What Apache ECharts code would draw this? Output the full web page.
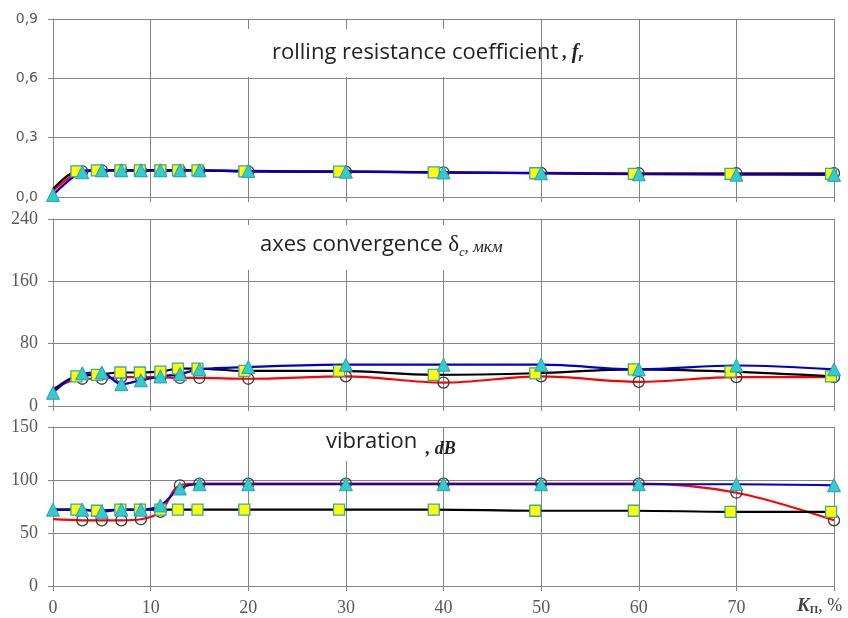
<!DOCTYPE html>
<html>
<head>
<meta charset="utf-8">
<script src="https://cdn.jsdelivr.net/npm/echarts@6/dist/echarts.min.js"></script>
<style>
  html, body { margin: 0; padding: 0; background: #fff; }
  #chart { width: 848px; height: 618px; }
</style>
</head>
<body>
<div id="chart"></div>
<script>
// x positions (K_P, %) of each marker family
const xCircle = [0, 3, 5, 7, 9, 11, 13, 15, 20, 30, 40, 50, 60, 70, 80];
const xSquare = [0, 2.4, 4.5, 6.9, 8.9, 11, 12.8, 14.8, 19.6, 29.3, 39, 49.4, 59.5, 69.4, 79.7];
const xTriangle = [0, 3, 5, 7, 9, 11, 13, 15, 20, 30, 40, 50, 60, 70, 80];

// rolling resistance coefficient f_r
const frCircle = [0.03, 0.13, 0.135, 0.135, 0.135, 0.135, 0.135, 0.135, 0.13, 0.128, 0.125, 0.122, 0.12, 0.12, 0.12];
const frSquare = [0.04, 0.13, 0.135, 0.135, 0.135, 0.135, 0.135, 0.135, 0.13, 0.128, 0.125, 0.12, 0.117, 0.117, 0.117];
const frTriangle = [0.01, 0.125, 0.135, 0.135, 0.135, 0.135, 0.135, 0.135, 0.132, 0.128, 0.124, 0.12, 0.115, 0.113, 0.112];

// axes convergence delta_c, mkm
const dcCircle = [22, 35, 35, 37, 37, 37, 36, 36, 35, 38, 30, 38, 31, 37, 37];
const dcSquare = [20, 38, 40, 43, 43, 44, 48, 48, 45, 45, 40, 42, 47, 44, 38];
const dcTriangle = [17, 42, 43, 28, 33, 38, 41, 47, 50, 53, 53, 53, 47, 52, 47];

// vibration, dB
const vbCircle = [63, 62, 62, 62, 63, 70, 95, 96.5, 96.5, 96.5, 96.5, 96.5, 96.5, 88, 62];
const vbSquare = [72, 72, 71, 72, 72, 72, 72, 72, 72, 72, 72, 71, 71, 70, 70];
const vbTriangle = [72, 72, 70, 72, 72, 76, 92, 96, 96, 96, 96, 96, 96, 96, 95];

const xTicks = [0, 10, 20, 30, 40, 50, 60, 70];

const gridColor = '#858585';
const labelColor = '#595959';

const styles = {
  circle: {
    line: '#ff0000', symbol: 'circle', size: 11,
    item: { color: 'rgba(255,255,255,0)', borderColor: '#3a3a3a', borderWidth: 1.3 },
    hideFirst: true
  },
  square: {
    line: '#000000', symbol: 'rect', size: 11,
    item: { color: '#ffff00', borderColor: '#3aa6a6', borderWidth: 1.3 },
    hideFirst: true
  },
  triangle: {
    line: '#0000cc', symbol: 'triangle', size: 13,
    item: { color: '#33cccc', borderColor: '#2a9fb0', borderWidth: 1 },
    hideFirst: false
  }
};

function makeSeries(xs, ys, gridIndex, kind) {
  const s = styles[kind];
  return {
    type: 'line',
    xAxisIndex: gridIndex,
    yAxisIndex: gridIndex,
    smooth: 0.35,
    symbol: s.symbol,
    symbolSize: s.size,
    itemStyle: s.item,
    lineStyle: { color: s.line, width: 2.2 },
    data: xs.map((x, i) => {
      const d = { value: [x, ys[i]] };
      if (i === 0 && s.hideFirst) d.symbol = 'none';
      return d;
    })
  };
}

function xAxis(i) {
  return {
    gridIndex: i,
    type: 'value',
    min: 0, max: 80, interval: 10,
    axisLine: { show: true, lineStyle: { color: gridColor } },
    axisTick: { show: true, length: 5, lineStyle: { color: gridColor } },
    splitLine: { show: true, lineStyle: { color: gridColor, width: 1 } },
    axisLabel: {
      show: i === 2,
      margin: 13,
      color: labelColor,
      fontFamily: 'Liberation Serif',
      fontSize: 18,
      formatter: (v) => (xTicks.indexOf(v) >= 0 ? String(v) : '')
    }
  };
}

function yAxis(i, max, interval, fmt, font, size) {
  return {
    gridIndex: i,
    type: 'value',
    min: 0, max: max, interval: interval,
    axisLine: { show: true, lineStyle: { color: gridColor } },
    axisTick: { show: true, length: 5, lineStyle: { color: gridColor } },
    splitLine: { show: true, lineStyle: { color: gridColor, width: 1 } },
    axisLabel: {
      margin: 15,
      color: labelColor,
      fontFamily: font,
      fontSize: size,
      formatter: fmt
    }
  };
}

const chart = echarts.init(document.getElementById('chart'), null, { renderer: 'canvas' });

const titleColor = '#222';

const option = {
  animation: false,
  backgroundColor: '#fff',
  grid: [
    { left: 53, right: 14, top: 19, height: 178 },
    { left: 53, right: 14, top: 219, height: 187 },
    { left: 53, right: 14, top: 427, height: 159 }
  ],
  xAxis: [xAxis(0), xAxis(1), xAxis(2)],
  yAxis: [
    yAxis(0, 0.9, 0.3, (v) => v.toFixed(1).replace('.', ','), 'DejaVu Sans', 14),
    yAxis(1, 240, 80, (v) => String(v), 'Liberation Serif', 18),
    yAxis(2, 150, 50, (v) => String(v), 'Liberation Serif', 18)
  ],
  graphic: [
    {
      type: 'text', left: 242, top: 29, z: 100,
      style: {
        text: '{a|rolling resistance }{e|coefficient}{b| , }{c|f}{d|r}',
        rich: {
          a: { fontFamily: 'Open Sans', fontSize: 22, fill: titleColor, backgroundColor: '#fff',
               padding: [10, 0, 11, 30], height: 27 },
          e: { fontFamily: 'Open Sans', fontSize: 22, fill: titleColor },
          b: { fontFamily: 'Liberation Serif', fontSize: 18, fontWeight: 'bold', fontStyle: 'italic', fill: titleColor },
          c: { fontFamily: 'Liberation Serif', fontSize: 20, fontWeight: 'bold', fontStyle: 'italic', fill: titleColor },
          d: { fontFamily: 'Liberation Serif', fontSize: 12, fontWeight: 'bold', fontStyle: 'italic', fill: titleColor,
               padding: [10, 0, 0, 0] }
        }
      }
    },
    {
      type: 'text', left: 242, top: 225, z: 100,
      style: {
        text: '{a|axes convergence }{d|δ}{s|c}{m|, мкм}',
        rich: {
          a: { fontFamily: 'Open Sans', fontSize: 22, fill: titleColor, backgroundColor: '#fff',
               padding: [6, 0, 12, 18], height: 27 },
          d: { fontFamily: 'Liberation Serif', fontSize: 23, fill: titleColor, backgroundColor: '#fff',
               padding: [6, 0, 12, 0], height: 27 },
          s: { fontFamily: 'Liberation Serif', fontSize: 12, fontStyle: 'italic', fill: titleColor,
               padding: [10, 0, 0, 0] },
          m: { fontFamily: 'Liberation Serif', fontSize: 17, fontStyle: 'italic', fill: titleColor }
        }
      }
    },
    {
      type: 'text', left: 320, top: 428, z: 100,
      style: {
        text: '{a|vibration}{b| , dB}',
        rich: {
          a: { fontFamily: 'Open Sans', fontSize: 22, fill: titleColor, backgroundColor: '#fff',
               padding: [0, 4, 6, 6], height: 27 },
          b: { fontFamily: 'Liberation Serif', fontSize: 18, fontWeight: 'bold', fontStyle: 'italic', fill: titleColor,
               padding: [10, 0, 0, 0] }
        }
      }
    },
    {
      type: 'text', left: 797, top: 597, z: 100,
      style: {
        text: '{k|K}{s|П}{n|, %}',
        rich: {
          k: { fontFamily: 'Liberation Serif', fontSize: 19, fontWeight: 'bold', fontStyle: 'italic', fill: '#444' },
          s: { fontFamily: 'Liberation Serif', fontSize: 11, fontWeight: 'bold', fill: '#444',
               padding: [8, 0, 0, 0] },
          n: { fontFamily: 'Liberation Serif', fontSize: 18, fill: '#444' }
        }
      }
    }
  ],
  series: [
    makeSeries(xCircle, frCircle, 0, 'circle'),
    makeSeries(xSquare, frSquare, 0, 'square'),
    makeSeries(xTriangle, frTriangle, 0, 'triangle'),
    makeSeries(xCircle, dcCircle, 1, 'circle'),
    makeSeries(xSquare, dcSquare, 1, 'square'),
    makeSeries(xTriangle, dcTriangle, 1, 'triangle'),
    makeSeries(xCircle, vbCircle, 2, 'circle'),
    makeSeries(xSquare, vbSquare, 2, 'square'),
    makeSeries(xTriangle, vbTriangle, 2, 'triangle')
  ]
};

chart.setOption(option);
</script>
</body>
</html>
